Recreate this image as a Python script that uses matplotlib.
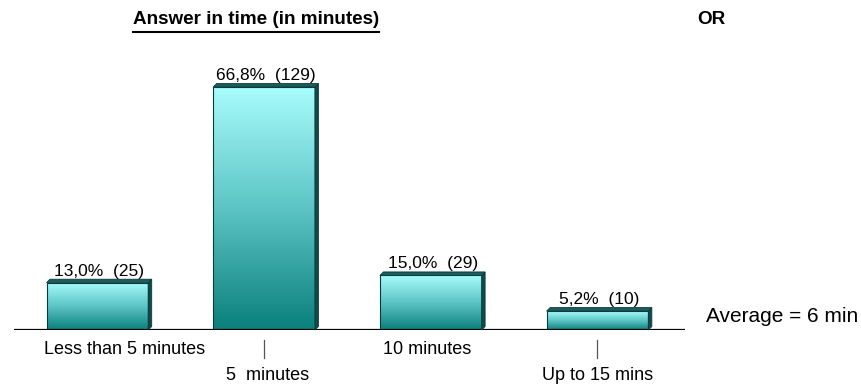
import numpy as np
import matplotlib
matplotlib.use("Agg")
import matplotlib.pyplot as plt
from matplotlib.patches import Polygon
from matplotlib.colors import LinearSegmentedColormap

plt.rcParams['font.family'] = ['Liberation Sans', 'DejaVu Sans']

categories = ["Less than 5 minutes", "5  minutes", "10 minutes", "Up to 15 mins"]
percents = [13.0, 66.8, 15.0, 5.2]
counts = [25, 129, 29, 10]
title = "Answer in time (in minutes)"
average_text = "Average = 6 min"

W, H, DPI = 862, 385, 100
fig = plt.figure(figsize=(W / DPI, H / DPI), dpi=DPI)
ax = fig.add_axes([14 / W, (H - 330) / H, 671 / W, 291 / H])
ax.set_xlim(-0.5, 3.525)
ax.set_ylim(0, 80)
ax.axis("off")

grad = LinearSegmentedColormap.from_list("teal", ["#0a7f7c", "#5cc4c4", "#a8fcfc"])
edge = "#0b3b3b"
side = "#0e4a4a"
depth = 3.5  # px

x = np.arange(len(categories))
width = 0.61
bars = ax.bar(x, percents, width=width, facecolor="none", edgecolor=edge,
              linewidth=0.8, zorder=3)

fig.canvas.draw()
for b in bars:
    x0, y0 = b.get_x(), b.get_y()
    x1, y1 = x0 + b.get_width(), y0 + b.get_height()
    img = ax.imshow(np.linspace(0, 1, 256).reshape(-1, 1), cmap=grad,
                    extent=[x0, x1, y0, y1], origin="lower", aspect="auto",
                    zorder=2)
    img.set_clip_path(b)
    # right side and top faces for the 3D look
    (dx0, dy0), (dx1, dy1) = ax.transData.transform([(x0, y0), (x1, y1)])
    sidepoly = Polygon([(dx1, dy0), (dx1 + depth, dy0 + depth),
                        (dx1 + depth, dy1 + depth), (dx1, dy1)],
                       closed=True, transform=None, facecolor=side,
                       edgecolor=edge, linewidth=0.6, zorder=2.5)
    toppoly = Polygon([(dx0, dy1), (dx0 + depth, dy1 + depth),
                       (dx1 + depth, dy1 + depth), (dx1, dy1)],
                      closed=True, transform=None, facecolor="#1c5c5c",
                      edgecolor=edge, linewidth=0.6, zorder=2.5)
    fig.add_artist(sidepoly)
    fig.add_artist(toppoly)

ax.set_ylim(0, 80)
ax.set_xlim(-0.5, 3.525)

# baseline
ax.axhline(0, color="black", linewidth=1.6, zorder=4)

# value labels
for xi, p, c in zip(x, percents, counts):
    ax.annotate(f"{p:.1f}%  ({c})".replace(".", ","), (xi, p),
                xytext=(1.5, 5), textcoords="offset points",
                ha="center", va="baseline", fontsize=12.5, zorder=5)

# category labels, staggered on two rows
label_shift = [0.165, 0.02, -0.02, 0.0]
for i, (xi, name) in enumerate(zip(x, categories)):
    dxp, dyp = ax.transData.transform((xi, 0))
    if i % 2 == 0:
        ax.annotate(name, (xi + label_shift[i], 0), xytext=(0, -14),
                    textcoords="offset points", ha="center", va="center",
                    fontsize=13)
    else:
        ax.annotate(name, (xi + label_shift[i], 0), xytext=(0, -33),
                    textcoords="offset points", ha="center", va="center",
                    fontsize=13)
        fig.add_artist(plt.Line2D([dxp, dxp], [dyp - 10, dyp - 28],
                                  transform=None, color="#555555",
                                  linewidth=0.9))

fig.text(706 / W, 1 - 317 / H, average_text, ha="left", va="center",
         fontsize=15)

t = fig.text(133 / W, 1 - 19 / H, title, ha="left", va="center",
             fontsize=13.6, fontweight="bold")
fig.canvas.draw()
bb = t.get_window_extent()
fig.add_artist(plt.Line2D([bb.x0, bb.x1], [H - 32, H - 32],
                          transform=None, color="black", linewidth=1.5))
fig.text(697 / W, 1 - 19 / H, "OR", ha="left", va="center",
         fontsize=13.6, fontweight="bold")

fig.savefig("out.png", dpi=DPI)
